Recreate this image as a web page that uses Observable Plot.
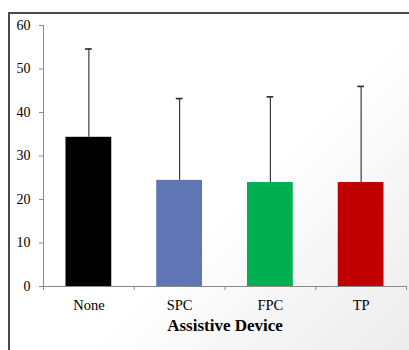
<!DOCTYPE html>
<html>
<head>
<meta charset="utf-8">
<script src="https://cdn.jsdelivr.net/npm/d3@7"></script>
<script src="https://cdn.jsdelivr.net/npm/@observablehq/plot@0.6"></script>
<style>
  html, body { margin: 0; padding: 0; width: 409px; height: 350px; overflow: hidden; background: #fff; }
  #wrap { position: absolute; left: 0; top: 0; width: 409px; height: 350px; }
  #frame { position: absolute; left: 8px; top: 12px; width: 420px; height: 360px;
    border-left: 2px solid #4a4a4a; border-top: 2px solid #4a4a4a;
    background: linear-gradient(135deg, #ffffff 52%, #e9e9e9 100%); }
  #chart { position: absolute; left: 0; top: 0; }
  #chart svg { background: transparent !important; }
</style>
</head>
<body>
<div id="wrap"><div id="frame"></div><div id="chart"></div></div>
<script>
const categories = ["None", "SPC", "FPC", "TP"];
const means = [34.3, 24.4, 23.9, 23.9];
const errors = [20.3, 18.8, 19.7, 22.1];
const colors = ["#000000", "#5F75B4", "#00B050", "#C00000"];
const yTicks = [0, 10, 20, 30, 40, 50, 60];
const xLabel = "Assistive Device";

const data = categories.map((c, i) => ({name: c, i, mean: means[i], top: means[i] + errors[i], color: colors[i]}));
const axisGray = "#8a8a8a";

const chart = Plot.plot({
  width: 409,
  height: 350,
  marginLeft: 43,
  marginRight: 3,
  marginTop: 25,
  marginBottom: 64,
  style: {fontFamily: "Liberation Serif", fontSize: "13px", color: "#000", background: "transparent"},
  x: {type: "linear", domain: [0, categories.length], axis: null},
  y: {domain: [0, 60], axis: null},
  color: {type: "identity"},
  marks: [
    Plot.rectY(data, {x1: d => d.i, x2: d => d.i + 1, y1: 0, y2: "mean", fill: "color", insetLeft: 22.5, insetRight: 22.5}),
    Plot.ruleX(data, {x: d => d.i + 0.5, y1: "mean", y2: "top", stroke: "#2a2a2a", strokeWidth: 1.1}),
    Plot.ruleY(data, {y: "top", x1: d => d.i, x2: d => d.i + 1, insetLeft: 42, insetRight: 42, stroke: "#2a2a2a", strokeWidth: 1.6}),
    Plot.axisY({ticks: yTicks, tickSize: 4, tickFormat: () => "", stroke: axisGray, label: null}),
    Plot.text(yTicks, {x: 0, y: d => d, text: d => String(d), dx: -13, textAnchor: "end", fontSize: 14, fill: "#000"}),
    Plot.ruleX([0], {y1: 0, y2: 60, stroke: axisGray}),
    Plot.ruleY([0], {stroke: axisGray}),
    Plot.axisX({ticks: d3.range(categories.length + 1), tickSize: 4, tickFormat: () => "", stroke: axisGray, label: null}),
    Plot.text(data, {x: d => d.i + 0.5, y: 0, text: "name", dy: 19, fontSize: 14.5, fill: "#000"}),
    Plot.text([xLabel], {frameAnchor: "bottom", dy: 44, text: d => d, fontSize: 17, fontWeight: "bold", fill: "#000"})
  ]
});
document.getElementById("chart").appendChild(chart);
</script>
</body>
</html>
